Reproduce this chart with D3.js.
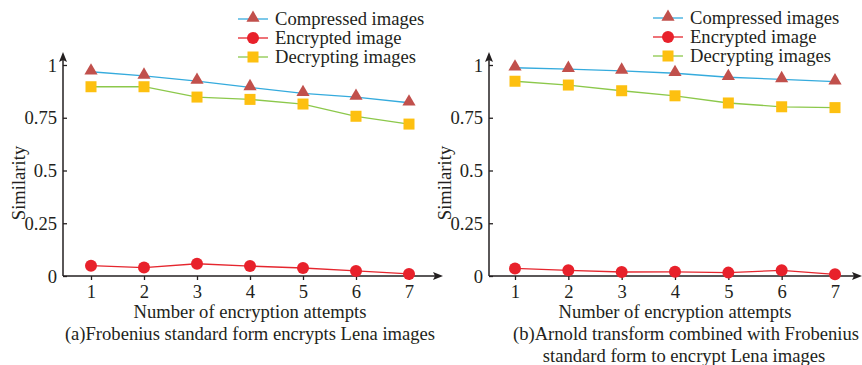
<!DOCTYPE html>
<html><head><meta charset="utf-8">
<script src="https://cdn.jsdelivr.net/npm/d3@7"></script>
<style>
html,body{margin:0;padding:0;background:#fff;}
svg{display:block;font-family:"Liberation Serif","Times New Roman",serif;}
</style></head>
<body><svg id="c" width="862" height="365"></svg>
<script>
const attempts = [1, 2, 3, 4, 5, 6, 7];
const yTicks = [0, 0.25, 0.5, 0.75, 1];
const yTickLabels = ["0", "0.25", "0.5", "0.75", "1"];
const seriesNames = ["Compressed images", "Encrypted image", "Decrypting images"];

const compressedA = [0.968, 0.948, 0.924, 0.894, 0.866, 0.848, 0.821];
const encryptedA  = [0.049, 0.040, 0.058, 0.047, 0.038, 0.024, 0.010];
const decryptingA = [0.897, 0.897, 0.848, 0.837, 0.815, 0.757, 0.720];

const compressedB = [0.987, 0.980, 0.972, 0.961, 0.942, 0.932, 0.921];
const encryptedB  = [0.036, 0.027, 0.019, 0.020, 0.016, 0.027, 0.008];
const decryptingB = [0.923, 0.905, 0.878, 0.854, 0.820, 0.802, 0.798];

const xTitle = "Number of encryption attempts";
const yTitle = "Similarity";
const captionA = ["(a)Frobenius standard form encrypts Lena images"];
const captionB = ["(b)Arnold transform combined with Frobenius", "standard form to encrypt Lena images"];

const styles = [
  {line: "#35ABDD", marker: "#C1504C", shape: "tri"},
  {line: "#E5262E", marker: "#E8212B", shape: "circle"},
  {line: "#8CC84B", marker: "#FDC010", shape: "square"}
];

const FS = 18.6;
const svg = d3.select("#c");
const axisColor = "#231F20";

function drawMarker(g, shape, color, cx, cy) {
  if (shape === "tri") {
    g.append("path").attr("d", d3.symbol().type(d3.symbolTriangle).size(75)())
      .attr("transform", `translate(${cx},${cy - 1})`).attr("fill", color);
  } else if (shape === "circle") {
    g.append("circle").attr("cx", cx).attr("cy", cy).attr("r", 6).attr("fill", color);
  } else {
    g.append("rect").attr("x", cx - 5.5).attr("y", cy - 5.5).attr("width", 11).attr("height", 11).attr("fill", color);
  }
}

function panel(cfg) {
  const g = svg.append("g");
  const x = d3.scalePoint().domain(attempts).range([cfg.x1, cfg.x7]);
  const y = d3.scaleLinear().domain([0, 1]).range([cfg.y0, cfg.y1]);

  // y axis
  const ya = g.append("g").attr("transform", `translate(${cfg.ax},0)`)
    .call(d3.axisLeft(y).tickValues(yTicks).tickFormat((d, i) => yTickLabels[i])
      .tickSizeInner(-4).tickSizeOuter(0).tickPadding(6));
  ya.select(".domain").remove();
  ya.selectAll("line").attr("stroke", axisColor).attr("stroke-width", 1.3);
  ya.selectAll("text").attr("font-size", FS).attr("fill", "#231F20")
    .attr("font-family", "Liberation Serif").attr("dy", "0.33em");

  // x axis
  const xa = g.append("g").attr("transform", `translate(0,${cfg.y0})`)
    .call(d3.axisBottom(x).tickSizeInner(4).tickSizeOuter(0).tickPadding(5));
  xa.select(".domain").remove();
  xa.selectAll("line").attr("stroke", axisColor).attr("stroke-width", 1.3);
  xa.selectAll("text").attr("font-size", FS).attr("fill", "#231F20")
    .attr("font-family", "Liberation Serif");

  // axis lines with arrows
  g.append("line").attr("x1", cfg.ax).attr("x2", cfg.ax).attr("y1", cfg.y0).attr("y2", cfg.arrowTop + 6)
    .attr("stroke", axisColor).attr("stroke-width", 1.5);
  g.append("path").attr("d", `M${cfg.ax},${cfg.arrowTop} L${cfg.ax - 4},${cfg.arrowTop + 10} L${cfg.ax},${cfg.arrowTop + 8} L${cfg.ax + 4},${cfg.arrowTop + 10} Z`).attr("fill", axisColor);
  g.append("line").attr("x1", cfg.ax).attr("x2", cfg.arrowRight - 6).attr("y1", cfg.y0).attr("y2", cfg.y0)
    .attr("stroke", axisColor).attr("stroke-width", 1.5);
  g.append("path").attr("d", `M${cfg.arrowRight},${cfg.y0} L${cfg.arrowRight - 10},${cfg.y0 - 4} L${cfg.arrowRight - 8},${cfg.y0} L${cfg.arrowRight - 10},${cfg.y0 + 4} Z`).attr("fill", axisColor);

  // series
  const data = cfg.data;
  data.forEach((vals, si) => {
    const st = styles[si];
    const line = d3.line().x((d, i) => x(attempts[i])).y(d => y(d));
    g.append("path").datum(vals).attr("d", line).attr("fill", "none")
      .attr("stroke", st.line).attr("stroke-width", 1.3);
    vals.forEach((v, i) => drawMarker(g, st.shape, st.marker, x(attempts[i]), y(v)));
  });

  // titles
  g.append("text").attr("transform", `translate(${cfg.yTitleX},${cfg.yTitleY}) rotate(-90)`)
    .attr("text-anchor", "middle").attr("font-size", FS).attr("fill", "#231F20").text(yTitle);
  g.append("text").attr("x", (cfg.x1 + cfg.x7) / 2).attr("y", 318)
    .attr("text-anchor", "middle").attr("font-size", FS).attr("fill", "#231F20").text(xTitle);
  cfg.caption.forEach((t, i) => {
    g.append("text").attr("x", cfg.capX[i]).attr("y", 340 + i * 22)
      .attr("text-anchor", cfg.capAnchor[i]).attr("font-size", FS).attr("fill", "#231F20").text(t);
  });

  // legend
  const lg = g.append("g");
  seriesNames.forEach((name, i) => {
    const cy = cfg.legY + i * 19;
    const st = styles[i];
    lg.append("line").attr("x1", cfg.legX).attr("x2", cfg.legX + 30).attr("y1", cy).attr("y2", cy)
      .attr("stroke", st.line).attr("stroke-width", 1.3);
    drawMarker(lg, st.shape, st.marker, cfg.legX + 15, cy);
    lg.append("text").attr("x", cfg.legX + 37).attr("y", cy + 6)
      .attr("font-size", FS).attr("fill", "#231F20").text(name);
  });
}

panel({
  ax: 63, x1: 91, x7: 409, y0: 276, y1: 65, arrowTop: 52, arrowRight: 443,
  data: [compressedA, encryptedA, decryptingA],
  yTitleX: 25, yTitleY: 183,
  caption: captionA, capX: [250], capAnchor: ["middle"],
  legX: 238, legY: 19
});
panel({
  ax: 489, x1: 515, x7: 835, y0: 276, y1: 65, arrowTop: 52, arrowRight: 862,
  data: [compressedB, encryptedB, decryptingB],
  yTitleX: 451, yTitleY: 183,
  caption: captionB, capX: [513, 684], capAnchor: ["start", "middle"],
  legX: 653, legY: 18
});
</script></body></html>
